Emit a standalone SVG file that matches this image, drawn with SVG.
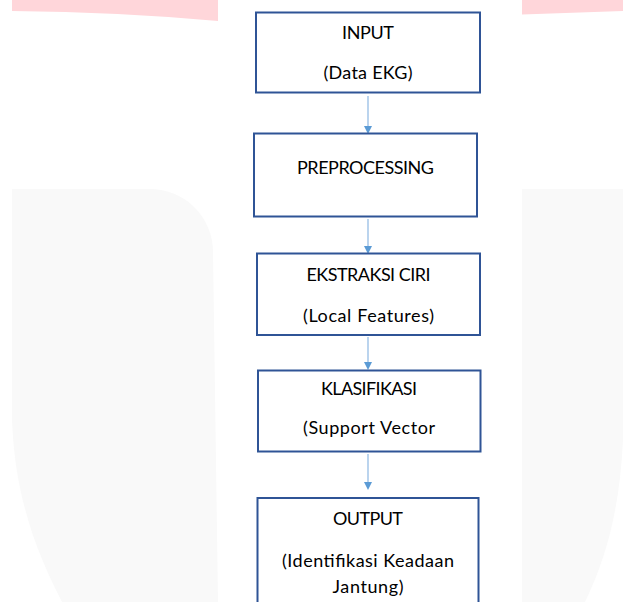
<svg xmlns="http://www.w3.org/2000/svg" width="623" height="602" viewBox="0 0 623 602">
<style>
.node rect{fill:#fff;stroke:#2F5496;stroke-width:2}
.node text{font-family:Lato,"Open Sans",sans-serif;font-size:18px;fill:#000;text-anchor:middle}
.conn line{stroke:#8DB8E3;stroke-width:1.2}
.conn path{fill:#5B9BD5}
</style>
<rect width="623" height="602" fill="#fff"/>
<g id="watermark">
<path d="M12,0 H218 V21 Q120,12 12,11 Z" fill="#FFD6DA"/>
<path d="M522,0 H623 V11 L522,14.5 Z" fill="#FFD6DA"/>
<path d="M12,189 H150 A63,63 0 0 1 213,252 L218,602 H62 C38,555 15,500 12,420 Z" fill="#F9F9F9"/>
<path d="M522,189 H623 V440 C620,500 610,550 585,602 H522 Z" fill="#F9F9F9"/>
</g>
<g id="connectors" class="conn">
<line x1="368" y1="96" x2="368" y2="127"/>
<path d="M364,126 L372,126 L368,134 Z"/>
<line x1="368" y1="219" x2="368" y2="246"/>
<path d="M364,246 L372,246 L368,254 Z"/>
<line x1="368" y1="337" x2="368" y2="362"/>
<path d="M364,362 L372,362 L368,370 Z"/>
<line x1="368" y1="454" x2="368" y2="482"/>
<path d="M364,482 L372,482 L368,490 Z"/>
</g>
<g id="input" class="node">
<rect x="256" y="12.5" width="224" height="80"/>
<text x="368" y="38.5" textLength="52" lengthAdjust="spacing">INPUT</text>
<text x="368" y="79" textLength="89" lengthAdjust="spacing">(Data EKG)</text>
</g>
<g id="preprocessing" class="node">
<rect x="254" y="133.5" width="223" height="83"/>
<text x="365.5" y="174" textLength="137" lengthAdjust="spacing">PREPROCESSING</text>
</g>
<g id="ekstraksi" class="node">
<rect x="257" y="253.5" width="223" height="81.5"/>
<text x="368.5" y="281" textLength="124" lengthAdjust="spacing">EKSTRAKSI CIRI</text>
<text x="368.5" y="321.5" textLength="131" lengthAdjust="spacing">(Local Features)</text>
</g>
<g id="klasifikasi" class="node">
<rect x="258" y="370.5" width="222.5" height="81"/>
<text x="369" y="395" textLength="96" lengthAdjust="spacing">KLASIFIKASI</text>
<text x="369" y="434" textLength="132" lengthAdjust="spacing">(Support Vector</text>
</g>
<g id="output" class="node">
<rect x="257.5" y="498" width="221" height="130"/>
<text x="368" y="525" textLength="70" lengthAdjust="spacing">OUTPUT</text>
<text x="368" y="566.5" textLength="172" lengthAdjust="spacing">(Identifikasi Keadaan</text>
<text x="368" y="592.5" textLength="71" lengthAdjust="spacing">Jantung)</text>
</g>
</svg>
